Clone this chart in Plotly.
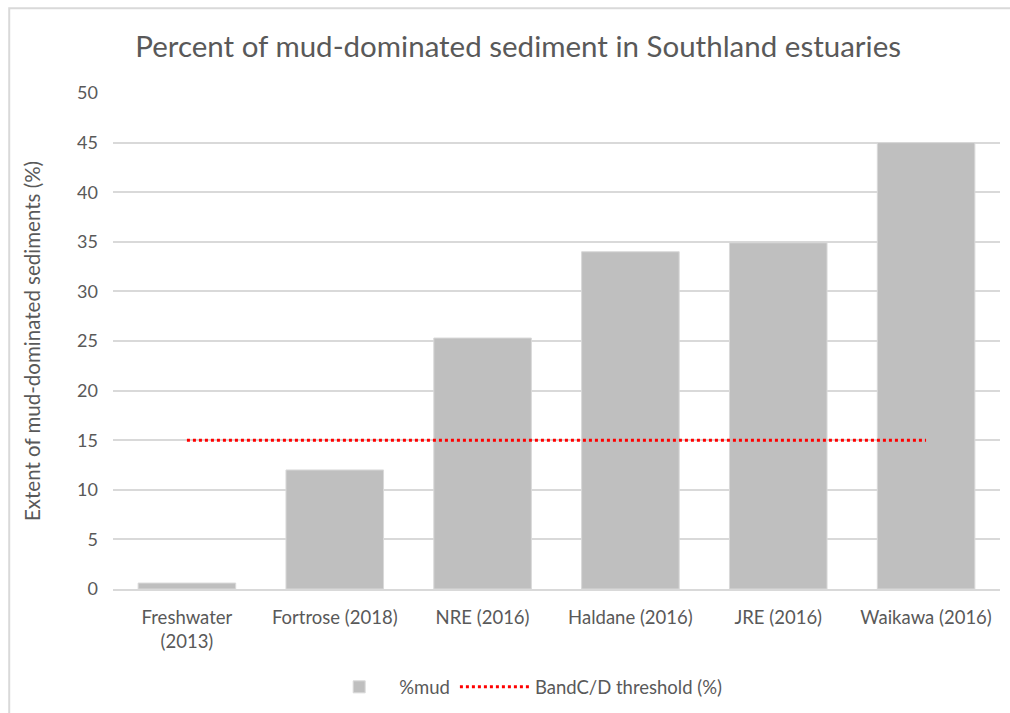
import plotly.graph_objects as go

# Estuary survey categories and measured mud extent
categories = ["Freshwater<br>(2013)", "Fortrose (2018)", "NRE (2016)",
              "Haldane (2016)", "JRE (2016)", "Waikawa (2016)"]
pct_mud = [0.6, 12.0, 25.3, 34.0, 34.9, 45.0]
threshold = [15, 15, 15, 15, 15, 15]
y_ticks = [0, 5, 10, 15, 20, 25, 30, 35, 40, 45, 50]

FONT = "Lato, Calibri, Carlito, sans-serif"
TEXT = "#595959"

fig = go.Figure()
fig.add_trace(go.Bar(
    x=categories, y=pct_mud, name="%mud",
    marker=dict(color="#BFBFBF", line=dict(color="#D9D9D9", width=1)),
))
fig.add_trace(go.Scatter(
    x=categories, y=threshold, name="BandC/D threshold (%)", mode="lines",
    line=dict(color="#FF0000", width=3, dash="dot"),
))

fig.update_layout(
    width=1010, height=713,
    margin=dict(l=113, r=10, t=93, b=124),
    paper_bgcolor="white", plot_bgcolor="white",
    font=dict(family=FONT, size=18, color=TEXT),
    bargap=0.34,
    title=dict(text="Percent of mud-dominated sediment in Southland estuaries",
               x=0.513, xref="container", y=0.934, yref="container",
               xanchor="center", yanchor="middle",
               font=dict(family=FONT, size=29.5, color=TEXT)),
    xaxis=dict(showgrid=False, showline=True, linecolor="#D9D9D9", linewidth=2,
               ticks="", ticklabelstandoff=11,
               tickfont=dict(size=18.5, color=TEXT)),
    yaxis=dict(range=[0, 50], tickvals=y_ticks, showgrid=True,
               gridcolor="#D9D9D9", gridwidth=1.5, zeroline=False,
               ticks="", ticklabelstandoff=14,
               tickfont=dict(size=18, color=TEXT),
               title=dict(text="Extent of mud-dominated sediments (%)",
                          font=dict(size=20.5, color=TEXT), standoff=30)),
    legend=dict(orientation="h", x=0.518, xref="container", xanchor="center",
                y=0.036, yref="container", yanchor="middle",
                font=dict(size=18.5, color=TEXT), itemwidth=70,
                tracegroupgap=0),
    showlegend=True,
)

# Light chart-area border
fig.add_shape(type="rect", xref="paper", yref="paper",
              x0=-0.117, x1=1.1, y0=-0.4, y1=1.171,
              line=dict(color="#D9D9D9", width=2), fillcolor="rgba(0,0,0,0)",
              layer="below")

fig.write_html("out.html")
